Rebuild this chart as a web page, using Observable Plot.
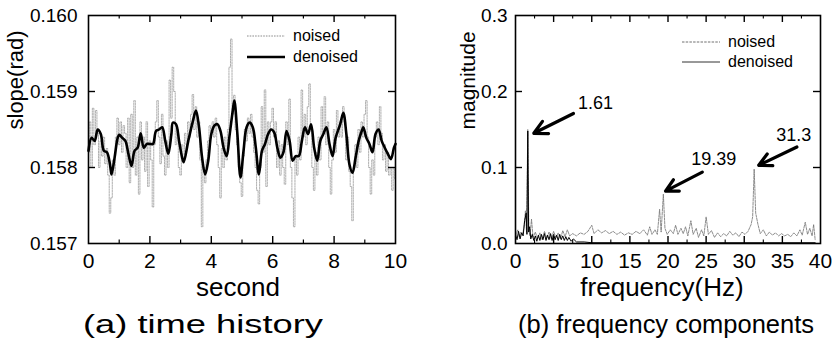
<!DOCTYPE html>
<html>
<head>
<meta charset="utf-8">
<script src="https://cdn.jsdelivr.net/npm/d3@7"></script>
<script src="https://cdn.jsdelivr.net/npm/@observablehq/plot@0.6"></script>
<style>
  html, body { margin: 0; padding: 0; background: #fff; }
  #wrap { position: relative; width: 832px; height: 339px; display: flex; font-family: "Liberation Sans", Arial, sans-serif; }
  .leg { position: absolute; font-size: 16px; line-height: 16px; display: flex; align-items: center; color: #000; }
  .leg svg { margin-right: 8px; }
</style>
</head>
<body>
<div id="wrap"></div>
<script>
// ---------- Panel (a) time history ----------
const denoisedT = [0,0.1,0.2,0.3,0.4,0.5,0.6,0.7,0.75,0.85,0.95,1.0,1.1,1.2,1.3,1.4,1.5,1.6,1.7,1.8,1.9,2.0,2.1,2.2,2.3,2.4,2.5,2.6,2.7,2.75,2.85,2.95,3.05,3.1,3.25,3.4,3.5,3.6,3.7,3.8,3.9,4.0,4.1,4.2,4.3,4.4,4.5,4.6,4.7,4.75,4.85,4.95,5.05,5.15,5.25,5.35,5.45,5.55,5.65,5.75,5.85,5.95,6.05,6.15,6.25,6.35,6.45,6.55,6.65,6.75,6.85,6.95,7.05,7.15,7.25,7.35,7.45,7.55,7.65,7.75,7.85,7.95,8.05,8.2,8.3,8.4,8.5,8.6,8.7,8.8,8.9,8.95,9.05,9.15,9.25,9.35,9.45,9.55,9.65,9.75,9.85,9.95,10];
const denoisedV = [0.15822,0.15839,0.15835,0.15850,0.15844,0.15822,0.15820,0.15804,0.15791,0.15813,0.15839,0.15843,0.15839,0.15835,0.15818,0.15802,0.15822,0.15826,0.15845,0.15826,0.15831,0.15831,0.15831,0.15848,0.15850,0.15853,0.15835,0.15818,0.15844,0.15859,0.15857,0.15835,0.15813,0.15807,0.15835,0.15861,0.15875,0.15853,0.15813,0.15791,0.15809,0.15844,0.15855,0.15857,0.15848,0.15826,0.15815,0.15844,0.15875,0.15888,0.15844,0.15787,0.15822,0.15853,0.15859,0.15853,0.15826,0.15791,0.15822,0.15831,0.15844,0.15850,0.15846,0.15826,0.15813,0.15820,0.15848,0.15835,0.15809,0.15815,0.15815,0.15835,0.15853,0.15844,0.15857,0.15826,0.15809,0.15835,0.15844,0.15853,0.15831,0.15815,0.15839,0.15857,0.15872,0.15844,0.15804,0.15793,0.15813,0.15835,0.15848,0.15853,0.15839,0.15831,0.15820,0.15844,0.15850,0.15835,0.15826,0.15818,0.15811,0.15826,0.15831];

const noisedStep = 0.05; // seconds between noised samples
const noisedV = [
  0.15820,0.15860,0.15800,0.15878,0.15830,0.15875,0.15845,0.15800,0.15835,0.15815,
  0.15840,0.15805,0.15825,0.15790,0.15740,0.15760,0.15810,0.15790,0.15840,0.15865,
  0.15830,0.15860,0.15820,0.15855,0.15845,0.15800,0.15865,0.15780,0.15870,0.15800,
  0.15888,0.15790,0.15840,0.15765,0.15860,0.15810,0.15840,0.15795,0.15860,0.15775,
  0.15835,0.15810,0.15748,0.15830,0.15860,0.15888,0.15840,0.15805,0.15870,0.15815,
  0.15790,0.15835,0.15800,0.15915,0.15865,0.15932,0.15900,0.15830,0.15850,0.15800,
  0.15790,0.15830,0.15810,0.15845,0.15830,0.15860,0.15840,0.15870,0.15896,0.15850,
  0.15880,0.15840,0.15860,0.15810,0.15722,0.15800,0.15780,0.15810,0.15835,0.15855,
  0.15845,0.15860,0.15840,0.15865,0.15830,0.15800,0.15760,0.15825,0.15800,0.15840,
  0.15810,0.15850,0.15932,0.15969,0.15870,0.15895,0.15850,0.15830,0.15800,0.15780,
  0.15762,0.15815,0.15850,0.15835,0.15865,0.15845,0.15870,0.15840,0.15820,0.15800,
  0.15770,0.15752,0.15800,0.15880,0.15820,0.15902,0.15775,0.15860,0.15830,0.15860,
  0.15878,0.15840,0.15860,0.15800,0.15835,0.15790,0.15830,0.15800,0.15778,0.15860,
  0.15830,0.15890,0.15800,0.15760,0.15722,0.15815,0.15790,0.15840,0.15810,0.15902,
  0.15840,0.15870,0.15830,0.15880,0.15910,0.15850,0.15800,0.15770,0.15820,0.15790,
  0.15840,0.15810,0.15880,0.15845,0.15893,0.15830,0.15860,0.15800,0.15765,0.15810,
  0.15850,0.15820,0.15875,0.15840,0.15860,0.15840,0.15880,0.15860,0.15810,0.15840,
  0.15795,0.15775,0.15730,0.15800,0.15830,0.15800,0.15850,0.15820,0.15860,0.15840,
  0.15870,0.15888,0.15840,0.15800,0.15765,0.15810,0.15790,0.15840,0.15860,0.15830,
  0.15880,0.15845,0.15810,0.15830,0.15795,0.15820,0.15790,0.15800,0.15770,0.15800,
  0.15785
];
const timeTicks = [0, 2, 4, 6, 8, 10];
const timeMinor = [1, 3, 5, 7, 9];
const slopeTicks = [0.157, 0.158, 0.159, 0.160];

// ---------- Panel (b) frequency components ----------
const noisedF = [0,0.3,0.5,0.7,0.9,1.1,1.3,1.45,1.61,1.75,1.9,2.1,2.3,2.6,2.9,3.2,3.5,3.8,4.1,4.4,4.7,5.0,5.3,5.6,5.9,6.2,6.5,6.8,7.1,7.5,8.0,8.5,9.0,9.5,10.0,10.3,10.8,11.3,11.8,12.3,12.8,13.3,13.8,14.3,14.8,15.3,15.8,16.3,16.8,17.3,17.6,17.9,18.3,18.6,18.9,19.1,19.39,19.6,19.9,20.3,20.7,21.0,21.3,21.7,22.0,22.3,22.6,23.0,23.3,23.7,24.0,24.4,24.7,25.0,25.3,25.7,26.1,26.5,26.9,27.3,27.7,28.1,28.5,28.9,29.3,29.7,30.1,30.5,30.9,31.1,31.3,31.5,31.8,32.1,32.5,32.9,33.3,33.7,34.1,34.5,34.9,35.3,35.7,36.1,36.5,36.9,37.3,37.6,38.0,38.3,38.6,38.9,39.1,39.3];
const noisedM = [0.010,0.018,0.008,0.015,0.012,0.020,0.043,0.015,0.150,0.020,0.010,0.032,0.008,0.015,0.006,0.014,0.005,0.016,0.007,0.015,0.006,0.016,0.008,0.014,0.006,0.017,0.009,0.018,0.010,0.013,0.010,0.014,0.012,0.016,0.024,0.013,0.018,0.014,0.017,0.013,0.016,0.012,0.015,0.011,0.014,0.012,0.016,0.013,0.018,0.011,0.022,0.012,0.018,0.012,0.045,0.015,0.065,0.020,0.012,0.018,0.013,0.024,0.012,0.020,0.013,0.022,0.010,0.030,0.012,0.020,0.008,0.018,0.010,0.035,0.012,0.017,0.008,0.014,0.009,0.013,0.010,0.016,0.011,0.014,0.009,0.015,0.012,0.016,0.025,0.035,0.098,0.040,0.025,0.013,0.018,0.010,0.015,0.011,0.014,0.010,0.013,0.010,0.012,0.009,0.014,0.010,0.018,0.011,0.028,0.012,0.020,0.010,0.025,0.005];
const denoisedF = [0,0.2,0.4,0.6,0.8,1.0,1.2,1.4,1.5,1.61,1.72,1.85,2.0,2.2,2.4,2.6,2.8,3.0,3.2,3.4,3.6,3.8,4.0,4.2,4.4,4.6,4.8,5.0,5.2,5.4,5.6,5.8,6.0,6.2,6.4,6.6,6.8,7.0,7.3,7.6,8.0,9,10,12,15,20,25,30,35,39.3];
const denoisedM = [0.012,0.005,0.016,0.006,0.014,0.010,0.030,0.040,0.012,0.148,0.015,0.022,0.006,0.012,0.004,0.010,0.003,0.011,0.004,0.012,0.005,0.013,0.004,0.011,0.005,0.013,0.004,0.012,0.005,0.011,0.004,0.012,0.005,0.010,0.004,0.009,0.004,0.008,0.003,0.006,0.002,0.002,0.001,0.001,0.001,0.001,0.001,0.001,0.001,0.001];
const peakLabels = ["1.61", "19.39", "31.3"];
const freqTicks = [0, 5, 10, 15, 20, 25, 30, 35, 40];
const freqMinor = [2.5, 7.5, 12.5, 17.5, 22.5, 27.5, 32.5, 37.5];
const magTicks = [0.0, 0.1, 0.2, 0.3];

// ---------- drawing ----------
const FONT = "'Liberation Sans', Arial, Helvetica, sans-serif";
const W = 416, H = 339, MT = 15, MB = 96;
const innerH = H - MT - MB;

function frameTicks(xs, ys, innerW, len) {
  return [
    Plot.ruleX(xs, {x: d => d, insetTop: innerH - len, stroke: "black", strokeWidth: 1.4}),
    Plot.ruleX(xs, {x: d => d, insetBottom: innerH - len, stroke: "black", strokeWidth: 1.4}),
    Plot.ruleY(ys, {y: d => d, insetRight: innerW - len, stroke: "black", strokeWidth: 1.4}),
    Plot.ruleY(ys, {y: d => d, insetLeft: innerW - len, stroke: "black", strokeWidth: 1.4})
  ];
}

// Panel A
const aML = 88, aMR = 21, aInnerW = W - aML - aMR;
const noisedIdx = d3.range(noisedV.length);
const plotA = Plot.plot({
  width: W, height: H,
  marginLeft: aML, marginRight: aMR, marginTop: MT, marginBottom: MB,
  x: {domain: [0, 10]},
  y: {domain: [0.157, 0.160]},
  style: {fontFamily: FONT, color: "black", background: "white", overflow: "visible"},
  marks: [
    Plot.line(noisedIdx, {x: i => i * noisedStep, y: i => noisedV[i], stroke: "#8c8c8c", strokeWidth: 0.7, strokeDasharray: "1.6,1.1", curve: "step"}),
    Plot.line(denoisedT, {x: d => d, y: (d, i) => denoisedV[i], stroke: "black", strokeWidth: 2.6, curve: "catmull-rom"}),
    ...frameTicks(timeTicks.slice(1, -1), slopeTicks.slice(1, -1), aInnerW, 7),
    Plot.ruleX(timeMinor, {x: d => d, insetTop: innerH - 3.5, stroke: "black", strokeWidth: 1.2}),
    Plot.ruleX(timeMinor, {x: d => d, insetBottom: innerH - 3.5, stroke: "black", strokeWidth: 1.2}),
    Plot.frame({stroke: "black", strokeWidth: 1.6}),
    Plot.axisX(timeTicks, {tickSize: 0, tickPadding: 10, fontSize: 21, label: null}),
    Plot.axisY(slopeTicks, {tickSize: 0, tickPadding: 11, fontSize: 19, tickFormat: d3.format(".3f"), label: null}),
    Plot.text(["second"], {frameAnchor: "bottom", lineAnchor: "middle", dy: 44, dx: -4, fontSize: 26}),
    Plot.text(["slope(rad)"], {frameAnchor: "left", dx: -73, rotate: -90, fontSize: 22}),
    Plot.text(["(a) time history"], {frameAnchor: "bottom", lineAnchor: "middle", dy: 81, dx: -39, fontSize: 25})
  ]
});

// Panel B
const bML = 99, bMR = 12, bInnerW = W - bML - bMR;
const arrows = [
  {x1: 7.6, y1: 0.171, x2: 2.4, y2: 0.145, lx: 10.5, ly: 0.184},
  {x1: 24.5, y1: 0.094, x2: 19.67, y2: 0.069, lx: 26.0, ly: 0.1105},
  {x1: 36.9, y1: 0.127, x2: 31.9, y2: 0.103, lx: 36.5, ly: 0.142}
];
const plotB = Plot.plot({
  width: W, height: H,
  marginLeft: bML, marginRight: bMR, marginTop: MT, marginBottom: MB,
  x: {domain: [0, 40]},
  y: {domain: [0, 0.3]},
  style: {fontFamily: FONT, color: "black", background: "white", overflow: "visible"},
  marks: [
    Plot.line(noisedF, {x: d => d, y: (d, i) => noisedM[i], stroke: "#707070", strokeWidth: 0.8, strokeDasharray: "2.5,1.2"}),
    Plot.line(denoisedF, {x: d => d, y: (d, i) => denoisedM[i], stroke: "black", strokeWidth: 1}),
    ...frameTicks(freqTicks.slice(1, -1), magTicks.slice(1, -1), bInnerW, 7),
    Plot.ruleX(freqMinor, {x: d => d, insetTop: innerH - 3.5, stroke: "black", strokeWidth: 1.1}),
    Plot.ruleX(freqMinor, {x: d => d, insetBottom: innerH - 3.5, stroke: "black", strokeWidth: 1.1}),
    Plot.frame({stroke: "black", strokeWidth: 1.6}),
    Plot.arrow(arrows, {x1: "x1", y1: "y1", x2: "x2", y2: "y2", stroke: "black", strokeWidth: 3.2, headLength: 13, headAngle: 55}),
    Plot.text(arrows, {x: "lx", y: "ly", text: (d, i) => peakLabels[i], fontSize: 18}),
    Plot.axisX(freqTicks, {tickSize: 0, tickPadding: 10, fontSize: 21, label: null}),
    Plot.axisY(magTicks, {tickSize: 0, tickPadding: 8, fontSize: 19, tickFormat: d3.format(".1f"), label: null}),
    Plot.text(["frequency(Hz)"], {frameAnchor: "bottom", lineAnchor: "middle", dy: 44, dx: -6, fontSize: 26}),
    Plot.text(["magnitude"], {frameAnchor: "left", dx: -47, rotate: -90, fontSize: 21}),
    Plot.text(["(b) frequency components"], {frameAnchor: "bottom", lineAnchor: "middle", dy: 81, dx: -2, fontSize: 25})
  ]
});

// stretch captions to the widths they have in the reference scan
d3.select(plotA).selectAll("text").filter(function() { return this.textContent === "(a) time history"; })
  .attr("textLength", 240).attr("lengthAdjust", "spacingAndGlyphs");
d3.select(plotB).selectAll("text").filter(function() { return this.textContent === "(b) frequency components"; })
  .attr("textLength", 296).attr("lengthAdjust", "spacingAndGlyphs");

const wrap = document.getElementById("wrap");
wrap.appendChild(plotA);
wrap.appendChild(plotB);

// legends (HTML overlay)
function legendItem(left, top, label, stroke, width, dash) {
  const d = document.createElement("div");
  d.className = "leg";
  d.style.left = left + "px";
  d.style.top = (top - 8) + "px";
  d.innerHTML = `<svg width="38" height="16"><line x1="0" x2="38" y1="8" y2="8" stroke="${stroke}" stroke-width="${width}" ${dash ? `stroke-dasharray="${dash}"` : ""}/></svg><span>${label}</span>`;
  wrap.appendChild(d);
}
legendItem(247, 36, "noised", "#8c8c8c", 1, "1.6,1.1");
legendItem(247, 57, "denoised", "black", 2.4, null);
legendItem(682, 42, "noised", "#707070", 1, "2.5,1.2");
legendItem(682, 62, "denoised", "#333", 1, null);
</script>
</body>
</html>
